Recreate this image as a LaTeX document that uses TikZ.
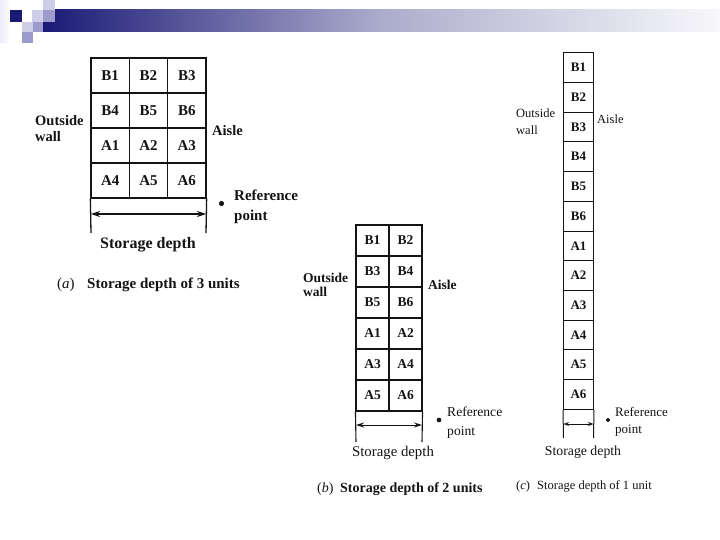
\documentclass[tikz,border=0pt]{standalone}
\usepackage{fontspec}
\setmainfont{Liberation Serif}
\usetikzlibrary{arrows.meta}
\definecolor{navy}{RGB}{26,26,118}
\definecolor{barmid}{RGB}{172,172,204}
\definecolor{barend}{RGB}{248,248,251}
\definecolor{lav1}{RGB}{206,206,232}
\definecolor{lav2}{RGB}{156,156,204}
\definecolor{lav3}{RGB}{236,236,246}
\definecolor{ink}{RGB}{20,20,20}
\begin{document}
\begin{tikzpicture}[x=1pt,y=-1pt,
  cellA/.style={draw=ink,line width=1.3pt,minimum width=38.33pt,minimum height=35pt,inner sep=0pt,font=\fontsize{15}{15}\selectfont\bfseries,text=ink},
  cellB/.style={draw=ink,line width=1.1pt,minimum width=33pt,minimum height=31pt,inner sep=0pt,font=\fontsize{13.5}{13.5}\selectfont\bfseries,text=ink},
  cellC/.style={draw=ink,line width=1pt,minimum width=30pt,minimum height=29.72pt,inner sep=0pt,font=\fontsize{13}{13}\selectfont\bfseries,text=ink},
  lblA/.style={inner sep=0pt,align=left,text=ink,font=\fontsize{14.5}{16}\selectfont\bfseries},
  refA/.style={inner sep=0pt,align=left,text=ink,font=\fontsize{15}{20}\selectfont\bfseries},
  lblB/.style={inner sep=0pt,align=left,text=ink,font=\fontsize{13.5}{14.5}\selectfont\bfseries},
  refB/.style={inner sep=0pt,align=left,text=ink,font=\fontsize{13.6}{19}\selectfont},
  lblC/.style={inner sep=0pt,align=left,text=ink,font=\fontsize{12.5}{17}\selectfont},
  refC/.style={inner sep=0pt,align=left,text=ink,font=\fontsize{13}{17}\selectfont},
  extA/.style={draw=ink,line width=1.3pt},
  extB/.style={draw=ink,line width=1.1pt},
  extC/.style={draw=ink,line width=1pt},
  dimA/.style={draw=ink,line width=1.1pt,{Stealth[length=9pt,width=6pt]}-{Stealth[length=9pt,width=6pt]}},
  dimB/.style={draw=ink,line width=1pt,{Stealth[length=8pt,width=5pt]}-{Stealth[length=8pt,width=5pt]}},
  dimC/.style={draw=ink,line width=0.9pt,{Stealth[length=5.5pt,width=4pt]}-{Stealth[length=5.5pt,width=4pt]}},
  refdot/.style={fill=ink,draw=ink,line width=0.6pt,circle,inner sep=0pt,minimum size=4.4pt}
]
\useasboundingbox (0,0) rectangle (720,540);
\fill[white] (0,0) rectangle (720,540);

% ---------- header decoration ----------
\shade[left color=navy,right color=barend,middle color=barmid] (43,10) rectangle (720,32);
\shade[left color=lav3,right color=white] (0,0) rectangle (10,43);
\fill[navy] (10,10) rectangle (22,22);
\fill[lav1] (32,10) rectangle (43,22);
\fill[lav1] (43,0) rectangle (55,10);
\fill[lav2] (43,10) rectangle (55,22);
\fill[lav1] (22,22) rectangle (33,32);
\fill[lav2] (33,22) rectangle (43,32);
\fill[lav2] (22,32) rectangle (33,43);

% ---------- (a) depth 3 ----------
\foreach \lab [count=\i from 0] in {B1,B2,B3,B4,B5,B6,A1,A2,A3,A4,A5,A6} {
  \pgfmathtruncatemacro\r{int(\i/3)}
  \pgfmathtruncatemacro\c{mod(\i,3)}
  \node[cellA] (a\i) at ({91+38.33*(\c+0.5)},{58+35*(\r+0.5)}) {\lab};
}
\coordinate (aL) at (91,233);
\coordinate (aR) at (206,233);
\coordinate (aAL) at (91,214);
\coordinate (aAR) at (206,214);
\draw[extA] (a9.south west) -- (aL);
\draw[extA] (a11.south east) -- (aR);
\draw[dimA] (aAL) -- (aAR);
\node[lblA,anchor=west] (aOut) at (35,129) {Outside\\wall};
\node[lblA,anchor=west] (aAisle) at (212,131) {Aisle};
\node[refdot] (aDot) at (221.5,203.5) {};
\node[refA,anchor=west] (aRef) at (234,207) {Reference\\point};
\node[inner sep=0pt,text=ink,font=\fontsize{16}{16}\selectfont\bfseries] (aSD) at (148,245) {Storage depth};
\node[inner sep=0pt,anchor=west,text=ink,font=\fontsize{15}{15}\selectfont\bfseries] (aCap) at (57,285) {\makebox[30pt][l]{\mdseries(\textit{a})}Storage depth of 3 units};

% ---------- (b) depth 2 ----------
\foreach \lab [count=\i from 0] in {B1,B2,B3,B4,B5,B6,A1,A2,A3,A4,A5,A6} {
  \pgfmathtruncatemacro\r{int(\i/2)}
  \pgfmathtruncatemacro\c{mod(\i,2)}
  \node[cellB] (b\i) at ({356+33*(\c+0.5)},{225+31*(\r+0.5)}) {\lab};
}
\coordinate (bL) at (356,442);
\coordinate (bR) at (422,442);
\coordinate (bAL) at (356,425);
\coordinate (bAR) at (422,425);
\draw[extB] (b10.south west) -- (bL);
\draw[extB] (b11.south east) -- (bR);
\draw[dimB] (bAL) -- (bAR);
\node[lblB,anchor=west] (bOut) at (303,285) {Outside\\wall};
\node[lblB,anchor=west] (bAisle) at (428,285) {Aisle};
\node[refdot,minimum size=4pt] (bDot) at (439,420) {};
\node[refB,anchor=west] (bRef) at (447,422.5) {Reference\\point};
\node[inner sep=0pt,text=ink,font=\fontsize{14.8}{14.8}\selectfont] (bSD) at (393,453) {Storage depth};
\node[inner sep=0pt,anchor=west,text=ink,font=\fontsize{14}{14}\selectfont\bfseries] (bCap) at (317,489) {\makebox[23pt][l]{\mdseries(\textit{b})}Storage depth of 2 units};

% ---------- (c) depth 1 ----------
\foreach \lab [count=\i from 0] in {B1,B2,B3,B4,B5,B6,A1,A2,A3,A4,A5,A6} {
  \node[cellC] (c\i) at (578.5,{52.7+29.72*(\i+0.5)}) {\lab};
}
\coordinate (cL) at (563.5,438);
\coordinate (cR) at (593.5,438);
\coordinate (cAL) at (563.5,424);
\coordinate (cAR) at (593.5,424);
\draw[extC] (c11.south west) -- (cL);
\draw[extC] (c11.south east) -- (cR);
\draw[dimC] (cAL) -- (cAR);
\node[lblC,anchor=west] (cOut) at (516,122) {Outside\\wall};
\node[lblC,anchor=west] (cAisle) at (597,119) {Aisle};
\node[refdot,minimum size=3.6pt] (cDot) at (608,420) {};
\node[refC,anchor=west] (cRef) at (615,421.5) {Reference\\point};
\node[inner sep=0pt,text=ink,font=\fontsize{13.8}{13.8}\selectfont] (cSD) at (583,452) {Storage depth};
\node[inner sep=0pt,anchor=west,text=ink,font=\fontsize{12.5}{12.5}\selectfont] (cCap) at (516,486) {\makebox[21pt][l]{(\textit{c})}Storage depth of 1 unit};
\end{tikzpicture}
\end{document}
